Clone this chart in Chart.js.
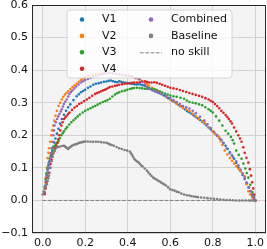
<!DOCTYPE html>
<html>
<head>
<meta charset="utf-8">
<script src="https://cdn.jsdelivr.net/npm/chart.js@4.4.0/dist/chart.umd.min.js"></script>
<style>
  html, body { margin: 0; padding: 0; background: #ffffff; }
  #wrap { width: 267px; height: 249px; }
</style>
</head>
<body>
<div id="wrap"><canvas id="prChart" width="267" height="249"></canvas></div>
<script>
// series: [x, y]
var v1 = [[0.012,0.045],[0.015,0.06],[0.019,0.078],[0.023,0.095],[0.027,0.108],[0.032,0.12],[0.037,0.13],[0.042,0.14],[0.046,0.152],[0.05,0.165],[0.055,0.178],[0.06,0.19],[0.067,0.205],[0.074,0.22],[0.082,0.236],[0.09,0.25],[0.1,0.263],[0.11,0.275],[0.12,0.286],[0.13,0.295],[0.145,0.308],[0.16,0.32],[0.17,0.326],[0.18,0.332],[0.19,0.336],[0.2,0.34],[0.213,0.346],[0.225,0.35],[0.238,0.355],[0.25,0.358],[0.263,0.36],[0.275,0.362],[0.288,0.364],[0.3,0.365],[0.31,0.367],[0.32,0.368],[0.33,0.366],[0.34,0.364],[0.35,0.363],[0.36,0.366],[0.37,0.364],[0.38,0.362],[0.39,0.361],[0.4,0.36],[0.41,0.359],[0.42,0.358],[0.43,0.357],[0.44,0.356],[0.45,0.357],[0.46,0.356],[0.47,0.354],[0.48,0.352],[0.49,0.349],[0.5,0.345],[0.51,0.342],[0.52,0.338],[0.53,0.335],[0.54,0.332],[0.55,0.329],[0.56,0.326],[0.57,0.322],[0.58,0.318],[0.59,0.314],[0.6,0.31],[0.61,0.306],[0.62,0.302],[0.63,0.298],[0.64,0.293],[0.65,0.289],[0.66,0.284],[0.67,0.279],[0.68,0.274],[0.69,0.27],[0.7,0.266],[0.71,0.261],[0.72,0.256],[0.73,0.252],[0.74,0.247],[0.75,0.242],[0.76,0.236],[0.77,0.23],[0.78,0.224],[0.79,0.218],[0.8,0.212],[0.81,0.205],[0.82,0.198],[0.83,0.192],[0.84,0.185],[0.85,0.177],[0.86,0.168],[0.87,0.158],[0.88,0.148],[0.89,0.138],[0.9,0.128],[0.91,0.115],[0.92,0.102],[0.93,0.09],[0.94,0.078],[0.95,0.066],[0.96,0.053],[0.97,0.04],[0.978,0.029],[0.985,0.018],[0.993,0.008],[1.0,0.0]];
var v2 = [[0.008,0.02],[0.01,0.04],[0.013,0.055],[0.015,0.07],[0.019,0.1],[0.023,0.13],[0.027,0.146],[0.03,0.16],[0.035,0.18],[0.04,0.2],[0.045,0.215],[0.05,0.23],[0.055,0.245],[0.06,0.26],[0.067,0.275],[0.075,0.29],[0.082,0.3],[0.09,0.31],[0.097,0.318],[0.105,0.325],[0.112,0.33],[0.12,0.335],[0.13,0.342],[0.14,0.348],[0.15,0.353],[0.16,0.358],[0.17,0.364],[0.18,0.37],[0.19,0.374],[0.2,0.378],[0.21,0.381],[0.22,0.383],[0.235,0.386],[0.25,0.388],[0.265,0.389],[0.28,0.39],[0.29,0.391],[0.3,0.392],[0.315,0.391],[0.33,0.39],[0.345,0.388],[0.36,0.386],[0.375,0.385],[0.39,0.383],[0.405,0.382],[0.42,0.38],[0.435,0.376],[0.45,0.372],[0.465,0.367],[0.48,0.362],[0.49,0.357],[0.5,0.352],[0.515,0.346],[0.53,0.34],[0.545,0.334],[0.56,0.328],[0.58,0.319],[0.6,0.31],[0.615,0.303],[0.63,0.296],[0.645,0.29],[0.66,0.284],[0.675,0.279],[0.69,0.274],[0.705,0.266],[0.72,0.258],[0.735,0.25],[0.75,0.244],[0.76,0.239],[0.77,0.234],[0.785,0.223],[0.8,0.212],[0.81,0.205],[0.82,0.199],[0.83,0.193],[0.838,0.182],[0.845,0.17],[0.856,0.153],[0.868,0.141],[0.88,0.13],[0.89,0.122],[0.9,0.113],[0.91,0.105],[0.92,0.097],[0.93,0.09],[0.94,0.082],[0.95,0.074],[0.958,0.05],[0.967,0.028],[0.975,0.018],[0.985,0.01],[0.993,0.004],[1.0,0.0]];
var v3 = [[0.01,0.04],[0.014,0.066],[0.018,0.083],[0.023,0.1],[0.028,0.115],[0.033,0.128],[0.037,0.137],[0.042,0.145],[0.046,0.154],[0.05,0.162],[0.056,0.167],[0.062,0.172],[0.068,0.177],[0.074,0.182],[0.081,0.191],[0.088,0.2],[0.094,0.206],[0.1,0.212],[0.108,0.219],[0.115,0.225],[0.125,0.233],[0.135,0.24],[0.145,0.246],[0.155,0.252],[0.165,0.258],[0.175,0.264],[0.188,0.27],[0.2,0.275],[0.213,0.279],[0.225,0.283],[0.236,0.287],[0.247,0.29],[0.258,0.294],[0.27,0.298],[0.283,0.302],[0.295,0.305],[0.305,0.308],[0.316,0.312],[0.328,0.319],[0.34,0.325],[0.35,0.329],[0.36,0.332],[0.373,0.335],[0.386,0.337],[0.398,0.34],[0.41,0.342],[0.42,0.344],[0.43,0.345],[0.443,0.346],[0.456,0.345],[0.468,0.344],[0.48,0.343],[0.49,0.343],[0.5,0.344],[0.512,0.343],[0.525,0.342],[0.537,0.339],[0.55,0.335],[0.562,0.331],[0.575,0.328],[0.588,0.325],[0.6,0.322],[0.615,0.32],[0.63,0.318],[0.648,0.315],[0.665,0.312],[0.678,0.307],[0.69,0.302],[0.705,0.3],[0.72,0.298],[0.735,0.295],[0.75,0.292],[0.765,0.286],[0.78,0.28],[0.79,0.275],[0.8,0.27],[0.815,0.258],[0.83,0.245],[0.845,0.23],[0.86,0.214],[0.872,0.205],[0.885,0.195],[0.893,0.185],[0.9,0.175],[0.91,0.153],[0.922,0.14],[0.935,0.128],[0.944,0.113],[0.953,0.098],[0.96,0.084],[0.967,0.07],[0.976,0.048],[0.986,0.025],[0.993,0.012],[1.0,0.0]];
var v4 = [[0.01,0.02],[0.014,0.037],[0.018,0.055],[0.023,0.07],[0.028,0.085],[0.033,0.1],[0.037,0.112],[0.042,0.125],[0.046,0.135],[0.05,0.144],[0.055,0.152],[0.06,0.16],[0.065,0.168],[0.07,0.177],[0.074,0.188],[0.078,0.2],[0.083,0.215],[0.088,0.23],[0.094,0.24],[0.1,0.25],[0.107,0.255],[0.113,0.26],[0.12,0.265],[0.126,0.27],[0.138,0.278],[0.15,0.285],[0.161,0.29],[0.172,0.296],[0.183,0.3],[0.195,0.305],[0.208,0.31],[0.22,0.315],[0.233,0.321],[0.247,0.327],[0.256,0.33],[0.265,0.332],[0.275,0.335],[0.285,0.338],[0.293,0.34],[0.3,0.342],[0.308,0.345],[0.316,0.348],[0.328,0.35],[0.34,0.352],[0.35,0.353],[0.36,0.355],[0.373,0.357],[0.386,0.358],[0.398,0.359],[0.41,0.36],[0.42,0.361],[0.43,0.362],[0.443,0.362],[0.456,0.363],[0.468,0.365],[0.48,0.366],[0.49,0.364],[0.5,0.362],[0.512,0.362],[0.525,0.363],[0.537,0.361],[0.55,0.358],[0.562,0.355],[0.575,0.352],[0.588,0.349],[0.6,0.346],[0.615,0.344],[0.63,0.342],[0.645,0.339],[0.66,0.336],[0.675,0.333],[0.69,0.33],[0.705,0.327],[0.72,0.324],[0.735,0.321],[0.75,0.318],[0.765,0.314],[0.78,0.31],[0.79,0.306],[0.8,0.302],[0.81,0.296],[0.82,0.29],[0.83,0.283],[0.84,0.275],[0.85,0.269],[0.86,0.262],[0.868,0.256],[0.875,0.25],[0.883,0.243],[0.89,0.236],[0.9,0.224],[0.91,0.212],[0.92,0.2],[0.928,0.19],[0.935,0.18],[0.943,0.163],[0.95,0.146],[0.958,0.131],[0.967,0.116],[0.974,0.096],[0.98,0.076],[0.985,0.056],[0.99,0.037],[0.995,0.018],[1.0,0.0]];
var combined = [[0.01,0.025],[0.014,0.046],[0.017,0.06],[0.02,0.075],[0.024,0.088],[0.028,0.1],[0.031,0.115],[0.035,0.13],[0.038,0.145],[0.042,0.16],[0.046,0.18],[0.05,0.2],[0.053,0.215],[0.056,0.23],[0.062,0.24],[0.068,0.25],[0.073,0.258],[0.079,0.265],[0.085,0.273],[0.09,0.28],[0.095,0.288],[0.1,0.296],[0.106,0.303],[0.113,0.31],[0.12,0.319],[0.126,0.327],[0.133,0.333],[0.14,0.338],[0.149,0.344],[0.158,0.35],[0.169,0.356],[0.18,0.362],[0.19,0.366],[0.2,0.37],[0.213,0.373],[0.225,0.376],[0.238,0.379],[0.25,0.382],[0.263,0.385],[0.275,0.387],[0.288,0.389],[0.3,0.39],[0.315,0.391],[0.33,0.39],[0.345,0.389],[0.36,0.388],[0.375,0.386],[0.39,0.385],[0.405,0.383],[0.42,0.38],[0.438,0.376],[0.456,0.372],[0.468,0.364],[0.48,0.356],[0.49,0.348],[0.5,0.342],[0.515,0.338],[0.53,0.334],[0.545,0.331],[0.56,0.327],[0.58,0.321],[0.6,0.315],[0.615,0.308],[0.63,0.302],[0.645,0.296],[0.66,0.29],[0.675,0.286],[0.69,0.282],[0.705,0.275],[0.72,0.268],[0.74,0.257],[0.76,0.245],[0.775,0.234],[0.79,0.222],[0.805,0.211],[0.82,0.2],[0.835,0.188],[0.85,0.175],[0.865,0.16],[0.88,0.145],[0.895,0.133],[0.91,0.12],[0.92,0.108],[0.93,0.095],[0.94,0.083],[0.95,0.07],[0.958,0.055],[0.967,0.04],[0.976,0.028],[0.985,0.015],[0.993,0.007],[1.0,0.0]];
var baseline = [[0.0,0.018],[0.005,0.027],[0.01,0.035],[0.015,0.042],[0.02,0.05],[0.024,0.06],[0.027,0.068],[0.03,0.076],[0.033,0.085],[0.037,0.1],[0.042,0.12],[0.046,0.134],[0.05,0.146],[0.054,0.151],[0.058,0.155],[0.065,0.162],[0.072,0.164],[0.08,0.165],[0.09,0.167],[0.1,0.168],[0.105,0.166],[0.11,0.163],[0.115,0.16],[0.12,0.158],[0.126,0.162],[0.132,0.165],[0.138,0.168],[0.145,0.17],[0.152,0.172],[0.16,0.173],[0.166,0.175],[0.172,0.177],[0.179,0.178],[0.186,0.179],[0.193,0.18],[0.2,0.181],[0.212,0.181],[0.225,0.18],[0.237,0.18],[0.25,0.18],[0.262,0.18],[0.275,0.179],[0.288,0.178],[0.3,0.177],[0.308,0.175],[0.316,0.172],[0.325,0.17],[0.335,0.168],[0.348,0.164],[0.36,0.16],[0.372,0.158],[0.385,0.155],[0.397,0.153],[0.41,0.15],[0.415,0.145],[0.42,0.14],[0.425,0.134],[0.43,0.128],[0.436,0.124],[0.443,0.12],[0.45,0.117],[0.456,0.113],[0.463,0.108],[0.47,0.104],[0.48,0.098],[0.49,0.092],[0.497,0.086],[0.505,0.08],[0.512,0.075],[0.52,0.07],[0.527,0.067],[0.535,0.064],[0.542,0.061],[0.55,0.058],[0.557,0.055],[0.565,0.052],[0.572,0.049],[0.58,0.046],[0.59,0.04],[0.6,0.034],[0.61,0.032],[0.62,0.03],[0.63,0.027],[0.64,0.025],[0.652,0.021],[0.665,0.018],[0.678,0.016],[0.69,0.015],[0.7,0.013],[0.71,0.012],[0.72,0.011],[0.73,0.01],[0.745,0.009],[0.76,0.008],[0.775,0.007],[0.79,0.006],[0.805,0.005],[0.82,0.004],[0.835,0.003],[0.85,0.002],[0.865,0.0015],[0.88,0.001],[0.895,0.0005],[0.91,0.0],[0.925,0.0],[0.94,0.0],[0.955,0.0],[0.97,0.0],[0.98,0.0],[0.99,0.0]];
var noSkill = [[0.0,0.0],[1.0,0.0]];

var seriesNames = ["V1", "V2", "V3", "V4", "Combined", "Baseline"];
var seriesData = [v1, v2, v3, v4, combined, baseline];
var seriesColors = ["#1f77b4", "#ff7f0e", "#2ca02c", "#d62728", "#9467bd", "#7f7f7f"];
var noSkillName = "no skill";

var xTicks = [0.0, 0.2, 0.4, 0.6, 0.8, 1.0];
var yTicks = [-0.1, 0.0, 0.1, 0.2, 0.3, 0.4, 0.5, 0.6];

var FONT = "DejaVu Sans";

function toPoints(arr) {
    return arr.map(function (p) { return { x: p[0], y: p[1] }; });
}

var datasets = seriesData.map(function (d, i) {
    return {
        type: "scatter",
        label: seriesNames[i],
        data: toPoints(d),
        backgroundColor: seriesColors[i],
        borderWidth: 0,
        pointRadius: 1.3,
        order: 10 - i,
    };
});
datasets.push({
    type: "line",
    label: noSkillName,
    data: toPoints(noSkill),
    borderColor: "#7f7f7f",
    borderWidth: 1,
    borderDash: [3.7, 1.6],
    pointRadius: 0,
    fill: false,
    order: 1,
});

// grey panel + frame like matplotlib
var panelPlugin = {
    id: "panel",
    beforeDraw: function (chart) {
        var a = chart.chartArea, c = chart.ctx;
        c.save();
        c.fillStyle = "#f4f4f4";
        c.fillRect(a.left, a.top, a.right - a.left, a.bottom - a.top);
        c.restore();
    },
    afterDatasetsDraw: function (chart) {
        var a = chart.chartArea, c = chart.ctx;
        c.save();
        c.strokeStyle = "#262626";
        c.lineWidth = 1;
        c.strokeRect(a.left + 0.5, a.top + 0.5, a.right - a.left - 1, a.bottom - a.top - 1);
        c.restore();
    },
};

// two-column legend drawn in the upper middle
var legendPlugin = {
    id: "boxLegend",
    afterDraw: function (chart) {
        var c = chart.ctx;
        var x0 = 67, y0 = 10, x1 = 232, y1 = 78, r = 3;
        c.save();
        c.beginPath();
        c.moveTo(x0 + r, y0);
        c.arcTo(x1, y0, x1, y1, r);
        c.arcTo(x1, y1, x0, y1, r);
        c.arcTo(x0, y1, x0, y0, r);
        c.arcTo(x0, y0, x1, y0, r);
        c.closePath();
        c.fillStyle = "rgba(255,255,255,0.8)";
        c.fill();
        c.strokeStyle = "rgba(204,204,204,0.8)";
        c.lineWidth = 1;
        c.stroke();

        c.font = "11px '" + FONT + "'";
        c.textBaseline = "middle";
        c.textAlign = "left";
        var cols = [{ mx: 82, tx: 102 }, { mx: 151, tx: 171 }];
        var items = [];
        seriesNames.forEach(function (n, i) { items.push({ name: n, color: seriesColors[i], dash: false }); });
        items.push({ name: noSkillName, color: "#7f7f7f", dash: true });
        items.forEach(function (it, i) {
            var col = i < 4 ? cols[0] : cols[1];
            var row = i < 4 ? i : i - 4;
            var y = 19.5 + row * 16.4;
            if (it.dash) {
                c.beginPath();
                c.setLineDash([3.7, 1.6]);
                c.strokeStyle = it.color;
                c.lineWidth = 1;
                c.moveTo(col.mx - 11, y + 0.5);
                c.lineTo(col.mx + 11, y + 0.5);
                c.stroke();
                c.setLineDash([]);
            } else {
                c.beginPath();
                c.fillStyle = it.color;
                c.arc(col.mx, y, 2.3, 0, Math.PI * 2);
                c.fill();
            }
            c.fillStyle = "#111";
            c.fillText(it.name, col.tx, y);
        });
        c.restore();
    },
};

document.addEventListener("DOMContentLoaded", function () {
    var ctx = document.getElementById("prChart").getContext("2d");
    new Chart(ctx, {
        data: { datasets: datasets },
        options: {
            responsive: false,
            animation: false,
            events: [],
            layout: { autoPadding: false, padding: { top: 5, right: 1, left: 0, bottom: 0 } },
            plugins: { legend: { display: false }, tooltip: { enabled: false } },
            scales: {
                x: {
                    type: "linear",
                    min: -0.05,
                    max: 1.05,
                    afterBuildTicks: function (s) {
                        s.ticks = xTicks.map(function (v) { return { value: v }; });
                    },
                    afterFit: function (s) {
                        s.height = 16;
                        s.paddingLeft = 0;
                        s.paddingRight = 0;
                    },
                    grid: { color: "#d2d2d2", lineWidth: 1, drawTicks: false },
                    border: { display: false },
                    ticks: {
                        padding: 4,
                        color: "#111",
                        font: { family: FONT, size: 11 },
                        maxRotation: 0,
                        callback: function (v) { return v.toFixed(1); },
                    },
                },
                y: {
                    type: "linear",
                    min: -0.1,
                    max: 0.6,
                    afterBuildTicks: function (s) {
                        s.ticks = yTicks.map(function (v) { return { value: v }; });
                    },
                    afterFit: function (s) {
                        s.width = 32;
                        s.paddingTop = 0;
                        s.paddingBottom = 0;
                    },
                    grid: { color: "#d2d2d2", lineWidth: 1, drawTicks: false },
                    border: { display: false },
                    ticks: {
                        padding: 4,
                        color: "#111",
                        font: { family: FONT, size: 11 },
                        callback: function (v) { return v < 0 ? "\u2212" + Math.abs(v).toFixed(1) : v.toFixed(1); },
                    },
                },
            },
        },
        plugins: [panelPlugin, legendPlugin],
    });
});
</script>
</body>
</html>
